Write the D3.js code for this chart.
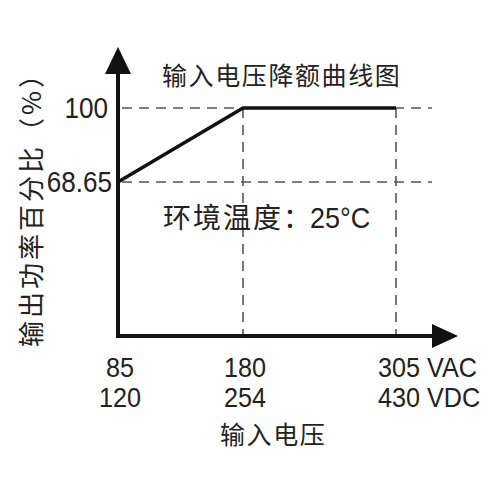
<!DOCTYPE html>
<html><head><meta charset="utf-8">
<script src="https://cdn.jsdelivr.net/npm/d3@7"></script>
<style>body{margin:0;background:#fff}</style>
</head><body>
<script>
const acVoltage = [85, 180, 305];
const dcVoltage = [120, 254, 430];
const outputPct = [68.65, 100, 100];
const yTicks = [68.65, 100];
const xTickLabelsAC = ["85", "180", "305 VAC"];
const xTickLabelsDC = ["120", "254", "430 VDC"];
const title = "输入电压降额曲线图";
const xTitle = "输入电压";
const yTitle = "输出功率百分比（%）";
const noteCJK = "环境温度：";
const noteTemp = "25°C";

const W = 500, H = 500;
const svg = d3.select("body").append("svg").attr("width", W).attr("height", H);

const x = d3.scaleLinear().domain(acVoltage).range([118, 243, 396]);
const y = d3.scaleLinear().domain([68.65, 100]).range([182, 108]);
const x0 = 118, yBase = 336, yTop = 47, xEnd = 458, dashEnd = 432;

const numFont = "'Liberation Sans', Arial, sans-serif";
const cjkFont = "'Noto Sans CJK SC', sans-serif";
const txt = "#222";
const sx = 0.9;

function numText(tx, ty, s, anchor, size) {
  return svg.append("text").attr("transform", `translate(${tx},${ty}) scale(${sx},1)`)
    .attr("text-anchor", anchor).attr("font-family", numFont).attr("font-size", size)
    .attr("fill", txt).text(s);
}

// dashed guides
const g = svg.append("g").attr("stroke", "#555").attr("stroke-width", 1.6).attr("stroke-dasharray", "10,7").attr("fill", "none");
yTicks.forEach(v => {
  g.append("line").attr("x1", x0 + 4).attr("x2", dashEnd).attr("y1", y(v)).attr("y2", y(v));
});
acVoltage.slice(1).forEach(v => {
  g.append("line").attr("x1", x(v)).attr("x2", x(v)).attr("y1", y(100)).attr("y2", yBase - 2);
});

// axes
svg.append("line").attr("x1", x0).attr("x2", x0).attr("y1", yBase + 2).attr("y2", 72)
  .attr("stroke", "#111").attr("stroke-width", 4);
svg.append("line").attr("x1", x0 - 2).attr("x2", 434).attr("y1", yBase).attr("y2", yBase)
  .attr("stroke", "#111").attr("stroke-width", 4);
svg.append("path").attr("d", `M${x0},${yTop} L${x0 - 13},${yTop + 27} L${x0 + 13},${yTop + 27} Z`).attr("fill", "#111");
svg.append("path").attr("d", `M${xEnd},${yBase} L${xEnd - 26},${yBase - 12} L${xEnd - 26},${yBase + 12} Z`).attr("fill", "#111");

// data line
const pts = acVoltage.map((v, i) => [x(v), y(outputPct[i])]);
svg.append("path").attr("d", d3.line()(pts)).attr("fill", "none").attr("stroke", "#111")
  .attr("stroke-width", 3.5).attr("stroke-linejoin", "miter");

// y tick labels
yTicks.forEach((d, i) => numText(i === 0 ? 112 : 108, y(d) + 10, String(d), "end", 29));

// x tick labels
acVoltage.forEach((v, i) => {
  const anchor = i === 2 ? "start" : "middle";
  const xx = i === 2 ? x(v) - 18 : x(v) + 2;
  numText(xx, 377, xTickLabelsAC[i], anchor, 28);
  numText(xx, 407, xTickLabelsDC[i], anchor, 28);
});

// titles
svg.append("text").attr("x", 162).attr("y", 85)
  .attr("font-family", cjkFont).attr("font-size", 25).attr("letter-spacing", 1.6).attr("fill", txt).text(title);
svg.append("text").attr("x", 220).attr("y", 444)
  .attr("font-family", cjkFont).attr("font-size", 25).attr("letter-spacing", 1.6).attr("fill", txt).text(xTitle);
svg.append("text").attr("transform", "translate(41,347) rotate(-90)")
  .attr("font-family", cjkFont).attr("font-size", 26).attr("letter-spacing", 3).attr("fill", txt).text(yTitle);
svg.append("text").attr("x", 163).attr("y", 228)
  .attr("font-family", cjkFont).attr("font-size", 28).attr("letter-spacing", 2).attr("fill", txt).text(noteCJK);
numText(310, 228, noteTemp, "start", 30);
</script>
</body></html>
